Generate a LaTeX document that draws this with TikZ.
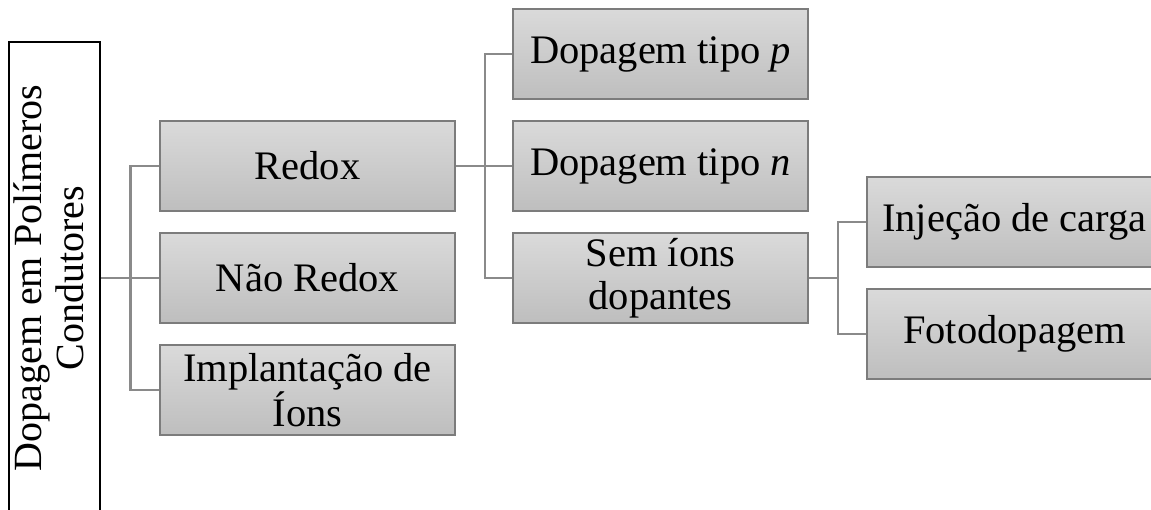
\documentclass[tikz,border=0pt]{standalone}
\usepackage{fontspec}
\setmainfont{Liberation Serif}
\usepackage{xcolor}
\usetikzlibrary{positioning, calc}

\definecolor{boxline}{HTML}{7C7C7C}
\definecolor{boxtop}{HTML}{DADADA}
\definecolor{boxbot}{HTML}{BEBEBE}
\definecolor{linkgray}{HTML}{8A8A8A}

\begin{document}
\begin{tikzpicture}[x=1pt, y=-1pt,
  box/.style={rectangle, draw=boxline, line width=1.5pt,
    top color=boxtop, bottom color=boxbot,
    minimum width=295pt, minimum height=90pt, inner sep=0pt,
    align=center, font=\fontsize{40.5}{43}\selectfont},
  rootbox/.style={rectangle, draw=black, line width=2.5pt, fill=white,
    minimum width=91pt, minimum height=472pt, inner sep=0pt,
    font=\fontsize{40}{42}\selectfont},
  link/.style={draw=linkgray, line width=2.5pt}]

  % Page frame
  \useasboundingbox (0,0) rectangle (1151,510);
  \clip (0,0) rectangle (1151,510);

  % Root
  \node[rootbox] (root) at (54.5,278)
    {\rotatebox{90}{\begin{tabular}{@{}c@{}}Dopagem em Polímeros\\Condutores\end{tabular}}};

  % First level
  \node[box] (redox) at (307.5,166) {Redox};
  \node[box] (naoredox) at (307.5,278) {Não Redox};
  \node[box] (implant) at (307.5,390) {Implantação de\\Íons};

  % Second level
  \node[box] (dopp) at (660.5,54) {Dopagem tipo \textit{p}};
  \node[box] (dopn) at (660.5,166) {Dopagem tipo \textit{n}};
  \node[box] (semions) at (660.5,278) {Sem íons\\dopantes};

  % Third level
  \node[box] (injecao) at (1014.5,222) {Injeção de carga};
  \node[box] (foto) at (1014.5,334) {Fotodopagem};

  % Connectors
  \draw[link] (root.east) -- ++(29,0) coordinate (bus1)
    (bus1) |- (redox.west) (bus1) |- (implant.west) (bus1) -- (naoredox.west);
  \draw[link] (redox.east) -- ++(29,0) coordinate (bus2)
    (bus2) |- (dopp.west) (bus2) |- (semions.west) (bus2) -- (dopn.west);
  \draw[link] (semions.east) -- ++(29,0) coordinate (bus3)
    (bus3) |- (injecao.west) (bus3) |- (foto.west);
\end{tikzpicture}
\end{document}
